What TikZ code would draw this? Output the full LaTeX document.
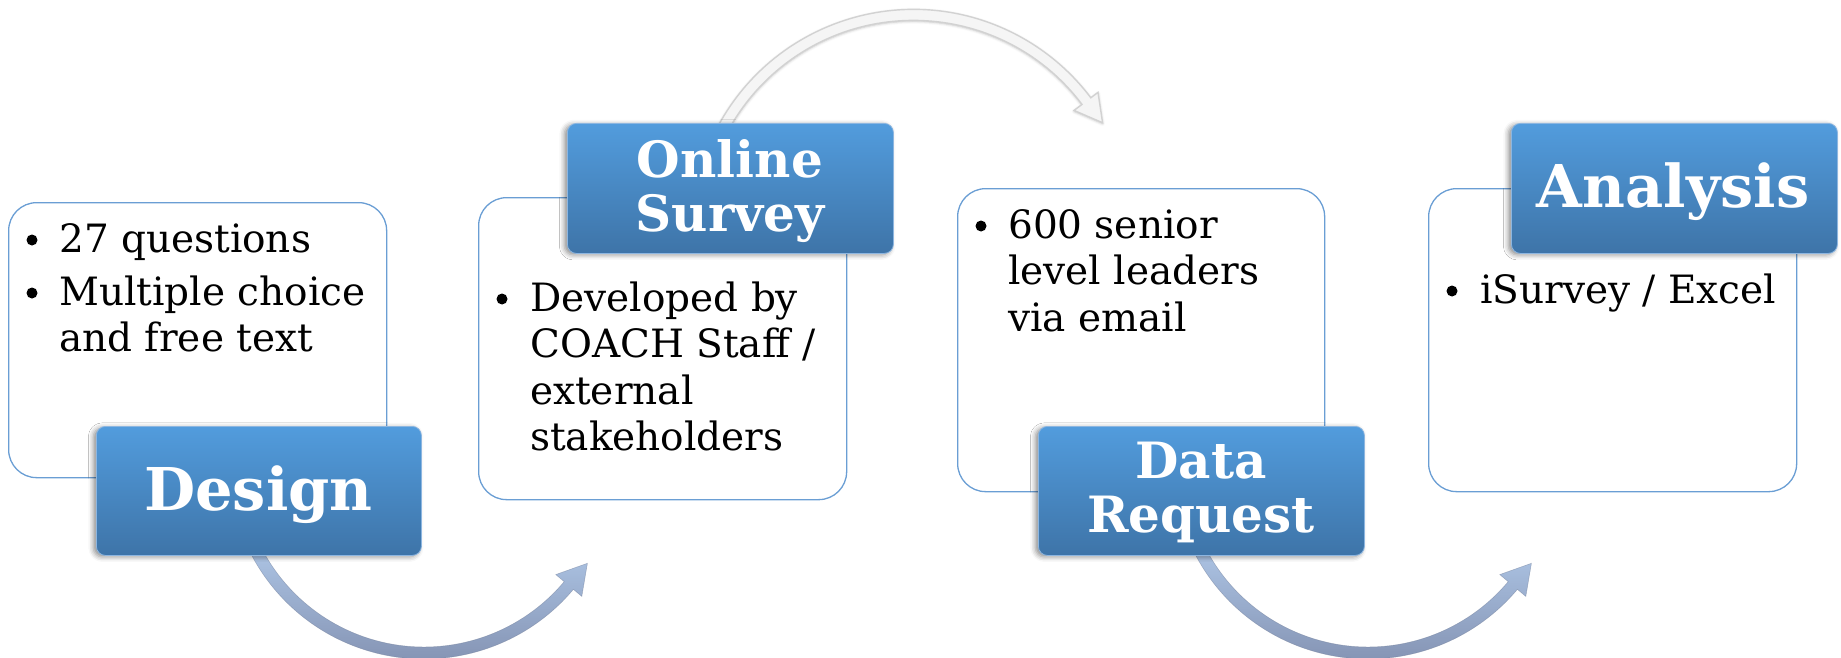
\documentclass[tikz,border=0pt]{standalone}
\usepackage{fontspec}
\setmainfont{DejaVu Serif}
\usetikzlibrary{calc,shadows.blur}

\definecolor{boxline}{HTML}{6A9ED4}
\definecolor{labtop}{HTML}{529CDD}
\definecolor{labbot}{HTML}{3E74A8}
\definecolor{labrim}{HTML}{8DB6E0}
\definecolor{arrlight}{HTML}{AFC7E7}
\definecolor{arrdark}{HTML}{8493B3}

\tikzset{
  infobox/.style={draw=boxline, line width=1.3pt, fill=white, rounded corners=28pt,
    inner sep=0pt, anchor=north west},
  stagelabel/.style={rounded corners=9pt, top color=labtop, bottom color=labbot,
    draw=labrim, line width=0.8pt, inner sep=0pt, anchor=north west,
    blur shadow={shadow xshift=-3pt, shadow yshift=-1.5pt, shadow blur radius=5pt,
      shadow opacity=45}},
  bodytext/.style={anchor=base west, inner sep=0pt, font=\fontsize{39}{46.5}\selectfont},
  bulletdot/.style={circle, fill=black, inner sep=0pt, minimum size=11pt},
  titleone/.style={anchor=base, inner sep=0pt, text=white,
    font=\bfseries\fontsize{59}{62}\selectfont},
  titletwo/.style={anchor=base, inner sep=0pt, text=white,
    font=\bfseries\fontsize{50}{54.5}\selectfont},
  bluearrow/.style={top color=arrlight, bottom color=arrdark, draw=arrdark!85!black,
    line width=0.5pt, draw opacity=0.5},
  greyarrow/.style={fill=white!96!black, draw=gray!35, line width=1.4pt,
    blur shadow={shadow xshift=0pt, shadow yshift=-1pt, shadow blur radius=2.5pt,
      shadow opacity=25}},
}

\begin{document}
\begin{tikzpicture}[x=1pt, y=-1pt]
  \useasboundingbox (0,0) rectangle (1841,658);

  % centres of the three curved arrows
  \coordinate (ctop) at (913.5,231.4);
  \coordinate (cone) at (424,464);
  \coordinate (ctwo) at (1368,464);

  % upper arrow: Online Survey -> Data Request
  \path[greyarrow]
    ($(ctop)+(207:222)$) arc[start angle=207, end angle=323, radius=222]
    -- ($(ctop)+(323:231)$) -- ($(ctop)+(323:216.4)+(413:27)$) coordinate (toptip)
    -- ($(ctop)+(323:201)$) -- ($(ctop)+(323:211)$)
    arc[start angle=323, end angle=207, radius=211] -- cycle;

  % lower arrows: Design -> Online Survey, Data Request -> Analysis
  \foreach \c in {cone,ctwo} {
    \path[bluearrow]
      ($(\c)+(155:195)$) arc[start angle=155, end angle=40, radius=195]
      -- ($(\c)+(40:206)$) -- ($(\c)+(40:189)+(-50:29)$)
      -- ($(\c)+(40:172)$) -- ($(\c)+(40:183)$)
      arc[start angle=40, end angle=155, radius=183] -- cycle;
  }

  % content boxes
  \node[infobox, minimum width=378pt, minimum height=275pt] (box1) at (8,202) {};
  \node[infobox, minimum width=368pt, minimum height=302pt] (box2) at (478,197) {};
  \node[infobox, minimum width=367pt, minimum height=303pt] (box3) at (957,188) {};
  \node[infobox, minimum width=368pt, minimum height=303pt] (box4) at (1428,188) {};

  % stage labels
  \node[stagelabel, minimum width=325pt, minimum height=129pt] (lab1) at (96,426) {};
  \node[stagelabel, minimum width=326pt, minimum height=130pt] (lab2) at (567,123) {};
  \node[stagelabel, minimum width=326pt, minimum height=129pt] (lab3) at (1038,426) {};
  \node[stagelabel, minimum width=326pt, minimum height=130pt] (lab4) at (1511,123) {};

  \node[titleone] (t1) at (258.5,510) {Design};
  \node[titletwo] (t2) at (730,177) {\parbox[t]{320pt}{\centering Online\\Survey}};
  \node[titletwo] (t3) at (1201,478) {\parbox[t]{320pt}{\centering Data\\Request}};
  \node[titleone] (t4) at (1673,207) {Analysis};

  % bullet points
  \node[bulletdot] (b1a) at (32,240) {};
  \node[bodytext] (x1a) at (59,252) {27 questions};
  \node[bulletdot] (b1b) at (32,293) {};
  \node[bodytext] (x1b) at (59,305) {\parbox[t]{320pt}{\raggedright Multiple choice\\and free text}};

  \node[bulletdot] (b2a) at (502,299) {};
  \node[bodytext] (x2a) at (530,311)
    {\parbox[t]{320pt}{\raggedright Developed by\\COACH Staff /\\external\\stakeholders}};

  \node[bulletdot] (b3a) at (981,226) {};
  \node[bodytext] (x3a) at (1008,238)
    {\parbox[t]{320pt}{\raggedright 600 senior\\level leaders\\via email}};

  \node[bulletdot] (b4a) at (1452,291) {};
  \node[bodytext] (x4a) at (1480,303) {iSurvey / Excel};
\end{tikzpicture}
\end{document}
